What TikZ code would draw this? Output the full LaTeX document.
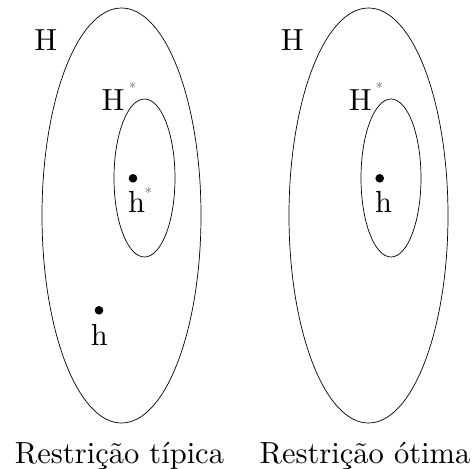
\documentclass[tikz,border=0pt]{standalone}
\usepackage{fontspec}
\setmainfont{lmroman10-regular.otf}
\begin{document}
\begin{tikzpicture}[x=1pt,y=-1pt,
  set/.style={draw=black,line width=0.7pt},
  lbl/.style={inner sep=0pt,anchor=base,font=\fontsize{30.5}{36}\selectfont},
  starlbl/.style={inner sep=0pt,anchor=base,text=black!60,font=\fontsize{15}{18}\selectfont},
  pt/.style={circle,fill=black,inner sep=0pt,minimum size=8.6pt}]
\useasboundingbox (0,0) rectangle (475,469);
% left diagram
\draw[set] (121.5,215.5) ellipse [x radius=79.5pt, y radius=207.5pt];
\draw[set] (144.5,178) ellipse [x radius=30.5pt, y radius=79pt];
\node[lbl] (H1) at (45.7,50.7) {H};
\node[lbl] (Hs1) at (113,110.7) {H};
\node[starlbl] (Hst1) at (132.7,93.8) {*};
\node[pt] (d1) at (133,178.3) {};
\node[lbl] (hs1) at (136.7,212.3) {h};
\node[starlbl] (hst1) at (148.3,198.8) {*};
\node[pt] (d2) at (99,310.3) {};
\node[lbl] (h2) at (99.3,345) {h};
\node[lbl] (c1) at (119.5,463) {Restrição típica};
% right diagram
\draw[set] (368.5,215.5) ellipse [x radius=79.5pt, y radius=207.5pt];
\draw[set] (391,178) ellipse [x radius=30pt, y radius=79pt];
\node[lbl] (H2) at (292.3,50.7) {H};
\node[lbl] (Hs2) at (360.3,110.7) {H};
\node[starlbl] (Hst2) at (379.3,93.8) {*};
\node[pt] (d3) at (379.7,178.3) {};
\node[lbl] (h3) at (383.7,212.3) {h};
\node[lbl] (c2) at (365,463) {Restrição ótima};
\end{tikzpicture}
\end{document}
